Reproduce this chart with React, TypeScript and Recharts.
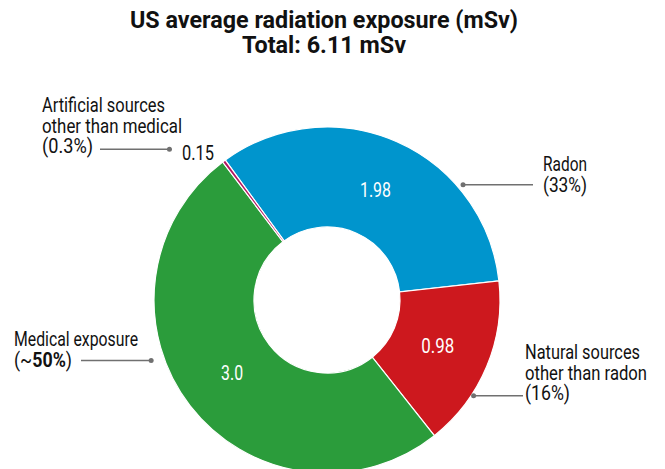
import React from 'react';
import { PieChart, Pie, Cell } from 'recharts';

const sources = ['Radon', 'Natural sources other than radon', 'Medical exposure', 'Artificial sources other than medical'];
const shares = [33, 16, 50, 0.3];
const doses = ['1.98', '0.98', '3.0', '0.15'];
const colors = ['#0095CD', '#CD181E', '#2B9C3B', '#B3155F'];

const data = sources.map((name, i) => ({ name, share: shares[i], dose: doses[i] }));

const FONT = "Roboto, 'Liberation Sans', sans-serif";
const CX = 322;
const CY = 295;
const RAD = Math.PI / 180;

// condensed look: squeeze each string to the width it takes in the original
const doseWidths = [31, 33, 22, 32];

const renderLabel = (props: any) => {
  const { cx, cy, midAngle, outerRadius, index } = props;
  const outside = index === 3;
  const r = outside ? outerRadius + 10 : 120;
  const x = cx + r * Math.cos(-midAngle * RAD);
  const y = cy + r * Math.sin(-midAngle * RAD);
  return (
    <text
      x={x}
      y={y}
      dx={outside ? -4 : 0}
      textAnchor={outside ? 'end' : 'middle'}
      dominantBaseline="central"
      fill={outside ? '#111' : '#fff'}
      fontSize={20}
      fontFamily={FONT}
      textLength={doseWidths[index]}
      lengthAdjust="spacingAndGlyphs"
    >
      {doses[index]}
    </text>
  );
};

// leader line anchors: angle (deg, ccw from 3 o'clock), radius from the pie centre
const leaders = [
  { angle: 38, r: 179, x2: 533, tx: 543, base: 171, lines: ['Radon', '(33%)'], widths: [44, 44] },
  { angle: -33.6, r: 182, x2: 523, tx: 525, base: 359, lines: ['Natural sources', 'other than radon', '(16%)'], widths: [115, 122, 45] },
  { angle: 201, r: 183, x2: 81, tx: 14, base: 346, lines: ['Medical exposure', '(~50%)'], widths: [124, 58] },
  { angle: 136.3, r: 211, x2: 100, tx: 42, base: 112, lines: ['Artificial sources', 'other than medical', '(0.3%)'], widths: [123, 140, 51] },
];

const Annotations = () => (
  <svg width={665} height={469} style={{ position: 'absolute', left: 0, top: 0, pointerEvents: 'none' }}>
    <text x={324} y={28} textAnchor="middle" fontSize={23} fontWeight="bold" fontFamily={FONT} fill="#111" textLength={388} lengthAdjust="spacingAndGlyphs">
      US average radiation exposure (mSv)
    </text>
    <text x={324} y={53} textAnchor="middle" fontSize={23} fontWeight="bold" fontFamily={FONT} fill="#111" textLength={164} lengthAdjust="spacingAndGlyphs">
      Total: 6.11 mSv
    </text>
    {leaders.map((l, i) => {
      const x1 = CX + l.r * Math.cos(l.angle * RAD);
      const y1 = CY - l.r * Math.sin(l.angle * RAD);
      return (
        <g key={i}>
          <line x1={x1} y1={y1} x2={l.x2} y2={y1} stroke="#707070" strokeWidth={1.5} />
          <circle cx={x1} cy={y1} r={2.5} fill="#707070" />
          {l.lines.map((t, j) => (
            <text
              key={j}
              x={l.tx}
              y={l.base + j * 20.5}
              fontSize={20}
              fontFamily={FONT}
              fill="#111"
              textLength={l.widths[j]}
              lengthAdjust="spacingAndGlyphs"
            >
              {t === '(~50%)' ? (
                <>
                  (~<tspan fontWeight="bold">50%</tspan>)
                </>
              ) : t}
            </text>
          ))}
        </g>
      );
    })}
  </svg>
);

export default function App() {
  return (
    <div style={{ position: 'absolute', left: 0, top: 0, width: 665, height: 469, background: '#fff' }}>
      <PieChart width={665} height={469}>
        <Pie
          data={data}
          dataKey="share"
          nameKey="name"
          cx={CX}
          cy={CY}
          innerRadius={73}
          outerRadius={173}
          startAngle={126}
          endAngle={-234}
          stroke="#fff"
          strokeWidth={1.2}
          label={renderLabel}
          labelLine={false}
          isAnimationActive={false}
        >
          {data.map((d, i) => (
            <Cell key={d.name} fill={colors[i]} />
          ))}
        </Pie>
      </PieChart>
      <Annotations />
    </div>
  );
}
